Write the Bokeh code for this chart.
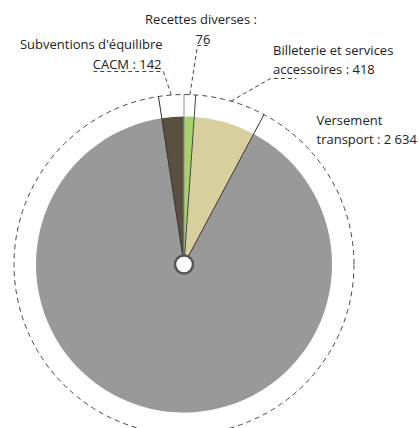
import numpy as np
from bokeh.plotting import figure
from bokeh.models import Range1d, ColumnDataSource
from bokeh.core.properties import value
from bokeh.embed import file_html
from bokeh.resources import INLINE

# ---- data (clockwise from 12 o'clock) ----
categories = ["Recettes diverses", "Billeterie et services accessoires",
              "Versement transport", "Subventions d'équilibre CACM"]
values = [76, 418, 2634, 142]
# share of the circle each slice occupies as drawn in the reference (percent)
drawn_share = [1.1, 6.7, 89.8, 2.4]
label_line1 = ["Recettes diverses :", "Billeterie et services", "Versement", "Subventions d'équilibre"]
label_prefix2 = ["", "accessoires : ", "transport : ", "CACM : "]
colors = ["#a7d36c", "#d8cf9e", "#999999", "#5a5040"]


def fmt(v):
    return f"{v:,}".replace(",", " ")


label_line2 = [pre + fmt(v) for pre, v in zip(label_prefix2, values)]

# ---- layout ----
W, H = 419, 428
def Y(py):
    return H - py

cx, cy = 183.5, Y(264)
R_PIE, R_RING, R_HOLE = 148, 170, 9

p = figure(width=W, height=H, x_range=Range1d(0, W), y_range=Range1d(0, H),
           output_backend="svg", toolbar_location=None, min_border=0,
           x_axis_location=None, y_axis_location=None)
p.grid.visible = False
p.outline_line_color = None
p.background_fill_color = "white"
p.border_fill_color = "white"

share = np.array(drawn_share, dtype=float)
frac = share / share.sum()
cum_after = np.cumsum(frac)
cum_before = cum_after - frac
start = np.pi / 2 - 2 * np.pi * cum_before
end = np.pi / 2 - 2 * np.pi * cum_after
mid = (start + end) / 2

src = ColumnDataSource(dict(start=start, end=end, color=colors, cat=categories, val=values))
p.wedge(x=cx, y=cy, radius=R_PIE, start_angle="start", end_angle="end",
        direction="clock", fill_color="color", line_color=None, source=src)

# slice boundary rays extended to the dashed ring
bounds = start
ray_colors = ["#8c8c8c", "#444444", "#333333", "#333333"]
p.segment(x0=[cx] * 4, y0=[cy] * 4,
          x1=list(cx + R_RING * np.cos(bounds)), y1=list(cy + R_RING * np.sin(bounds)),
          line_color=ray_colors, line_width=1)

# dashed ring
p.circle(x=cx, y=cy, radius=R_RING, fill_color=None, line_color="#444444",
         line_width=1, line_dash="5 4")

# centre hole
p.circle(x=cx, y=cy, radius=R_HOLE, fill_color="white", line_color="#555555", line_width=2.5)

# leader lines (from ring at slice mid-angle to label underline)
lead_style = dict(line_color="#444444", line_width=1, line_dash="4 3")
def ring_pt(a):
    return cx + R_RING * np.cos(a), cy + R_RING * np.sin(a)

# Recettes diverses
x0, y0 = ring_pt(mid[0])
p.line([x0, 197, 209], [y0, Y(45), Y(45)], **lead_style)
# Billeterie
x0, y0 = ring_pt(mid[1])
p.line([x0, 270, 296], [y0, Y(78), Y(78)], **lead_style)
# Subventions
x0, y0 = ring_pt(mid[3])
p.line([x0, 163, 93], [y0, Y(71), Y(71)], **lead_style)

txt = dict(text_font=value("Open Sans"), text_font_size="13px",
           text_color="#222222", text_baseline="middle")
# Recettes (centred)
p.text(x=[200.5, 202.5], y=[Y(18.5), Y(38.5)], text=[label_line1[0], label_line2[0]],
       text_align="center", **txt)
# Subventions (right aligned)
p.text(x=[162, 161], y=[Y(43.5), Y(63)], text=[label_line1[3], label_line2[3]],
       text_align="right", **txt)
# Billeterie (left)
p.text(x=[272.5, 272.5], y=[Y(49), Y(68)], text=[label_line1[1], label_line2[1]],
       text_align="left", **txt)
# Versement (left)
p.text(x=[316, 316], y=[Y(119), Y(138)], text=[label_line1[2], label_line2[2]],
       text_align="left", **txt)

open("out.html", "w").write(file_html(p, INLINE))
